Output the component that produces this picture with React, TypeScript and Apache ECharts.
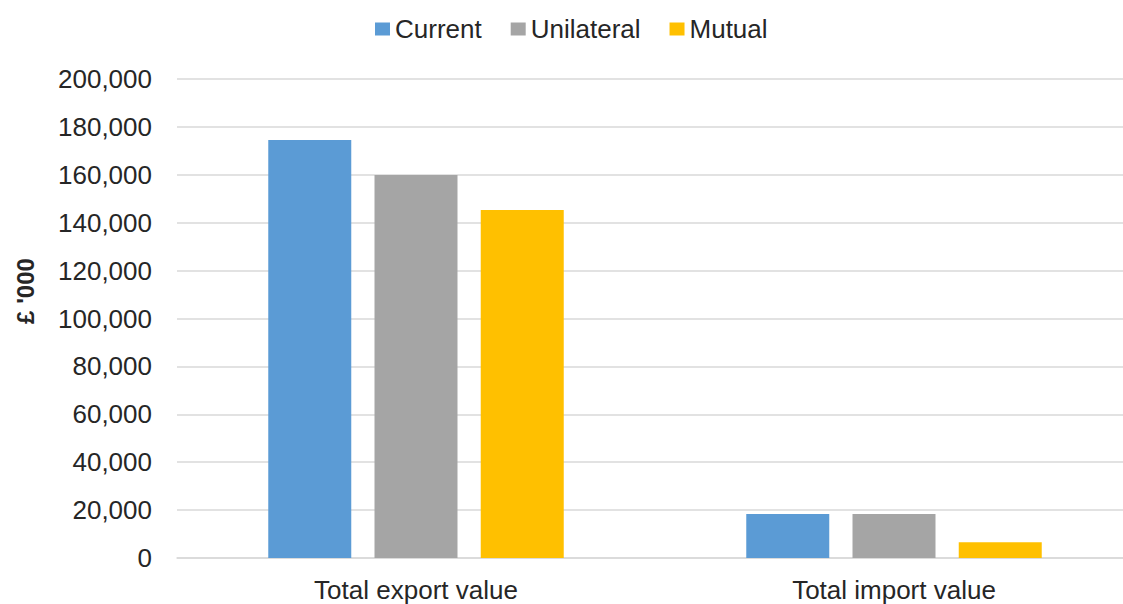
import React, { useEffect, useRef } from "react";
import * as echarts from "echarts";

const categories = ["Total export value", "Total import value"];
const seriesNames = ["Current", "Unilateral", "Mutual"];
const currentValues = [174500, 18400];
const unilateralValues = [159900, 18400];
const mutualValues = [145300, 6600];
const colors = ["#5B9BD5", "#A5A5A5", "#FFC000"];
const yAxisTitle = "£ '000";

const fmt = (v: number) => v.toLocaleString("en-GB");

export default function App() {
  const ref = useRef<HTMLDivElement>(null);
  useEffect(() => {
    if (!ref.current) return;
    const chart = echarts.init(ref.current, undefined, { renderer: "svg" });
    const font = "Liberation Sans, Arial, sans-serif";
    const dataSets = [currentValues, unilateralValues, mutualValues];
    chart.setOption({
      animation: false,
      backgroundColor: "#ffffff",
      textStyle: { fontFamily: font },
      legend: {
        top: 11,
        left: 370,
        itemWidth: 15,
        itemHeight: 13,
        itemGap: 29,
        icon: "rect",
        textStyle: { fontSize: 26, color: "#262626", fontFamily: font },
        data: seriesNames,
      },
      grid: {
        left: 177,
        right: -10,
        top: 79,
        bottom: 46,
        containLabel: false,
        outerBoundsMode: "none",
      },
      graphic: [
        {
          type: "text",
          x: 25,
          y: 291,
          rotation: Math.PI / 2,
          style: {
            text: yAxisTitle,
            fontSize: 24,
            fontWeight: "bold",
            fill: "#262626",
            fontFamily: font,
            align: "center",
            verticalAlign: "middle",
          },
        },
      ],
      xAxis: {
        type: "category",
        data: categories,
        axisTick: { show: false },
        axisLine: { show: true, lineStyle: { color: "#D9D9D9", width: 1.5 } },
        axisLabel: { fontSize: 26, color: "#262626", margin: 19, fontFamily: font },
      },
      yAxis: {
        type: "value",
        min: 0,
        max: 200000,
        interval: 20000,
        axisLine: { show: false },
        axisTick: { show: false },
        splitLine: { lineStyle: { color: "#D9D9D9", width: 1.5 } },
        axisLabel: {
          fontSize: 26,
          color: "#262626",
          margin: 25,
          fontFamily: font,
          formatter: (v: number) => fmt(v),
        },
      },
      series: seriesNames.map((name, i) => ({
        name,
        type: "bar",
        data: dataSets[i],
        barWidth: 83,
        barGap: "28%",
        itemStyle: { color: colors[i] },
      })),
    });
    return () => chart.dispose();
  }, []);
  return <div ref={ref} style={{ width: 1123, height: 604, position: "absolute", left: 0, top: 0 }} />;
}
